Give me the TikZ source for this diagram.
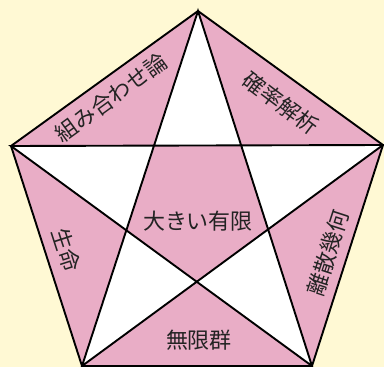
\documentclass[tikz,border=0pt]{standalone}
\usepackage{fontspec}
\newfontfamily\jp{Noto Sans CJK JP}
\definecolor{bgyellow}{RGB}{255,249,212}
\definecolor{petal}{RGB}{233,173,198}
\definecolor{txt}{RGB}{35,35,35}
\begin{document}
\begin{tikzpicture}[x=1pt,y=-1pt,
  edge/.style={draw=black,line width=1.9pt,line join=miter},
  lab/.style={font=\jp\fontsize{22}{24}\selectfont,text=txt,inner sep=0pt}]
\fill[bgyellow] (0,0) rectangle (384,367);
\useasboundingbox (0,0) rectangle (384,367);
\coordinate (T) at (198,11);
\coordinate (L) at (11,146);
\coordinate (R) at (383,145);
\coordinate (BL) at (82,366);
\coordinate (BR) at (312,366);
\fill[petal] (T) -- (R) -- (BR) -- (BL) -- (L) -- cycle;
\fill[white,even odd rule] (T) -- (BL) -- (R) -- (L) -- (BR) -- cycle;
\draw[edge] (T) -- (R) -- (BR) -- (BL) -- (L) -- cycle;
\draw[edge] (T) -- (BL) -- (R) -- (L) -- (BR) -- cycle;
\node[lab,rotate=36] (comb) at (111,98) {組み合わせ論};
\node[lab,rotate=-37] (prob) at (281,103) {確率解析};
\node[lab] (big) at (198,221) {大きい有限};
\node[lab,rotate=-72] (life) at (66,250) {生命};
\node[lab,rotate=72] (disc) at (328,253) {離散幾何};
\node[lab] (inf) at (199,340) {無限群};
\end{tikzpicture}
\end{document}
